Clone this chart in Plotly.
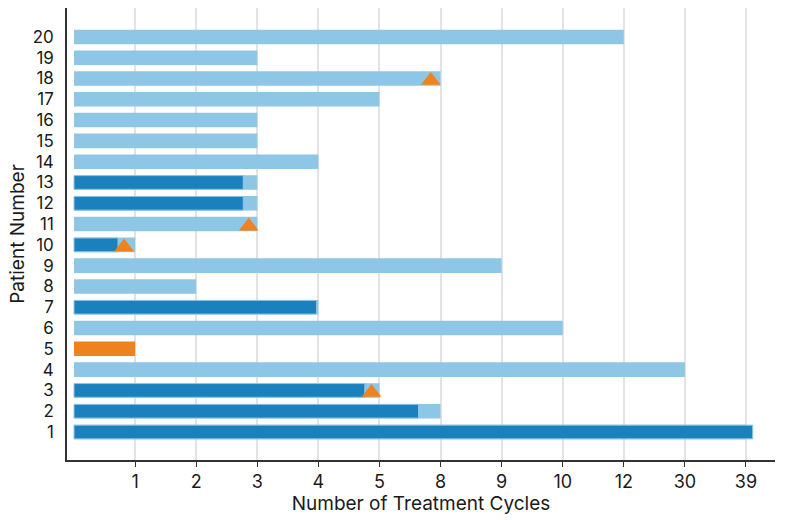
import plotly.graph_objects as go

# Ordinal x scale: tick labels in order (position 1..11)
cycle_ticks = [1, 2, 3, 4, 5, 8, 9, 10, 12, 30, 39]

patients = list(range(1, 21))
# total number of treatment cycles per patient
total_cycles = [39, 8, 5, 30, 1, 10, 4, 2, 9, 1, 3, 3, 3, 4, 3, 3, 5, 8, 3, 12]

# dark bars (ordinal-scale position)
dark_patients = [1, 2, 3, 7, 10, 12, 13]
dark_pos = [11.11, 5.64, 4.76, 3.97, 0.72, 2.77, 2.77]

# orange bar patient
orange_patients = [5]
orange_cycles = [1]

# triangle events (ordinal-scale position)
tri_patients = [3, 10, 11, 18]
tri_pos = [4.87, 0.82, 2.86, 5.84]

LIGHT = "#8EC6E5"
DARK = "#1B80BE"
ORANGE = "#EE821E"

def to_pos(c):
    return cycle_ticks.index(c) + 1

light_patients = [p for p in patients if p not in orange_patients]
light_pos = [to_pos(total_cycles[p - 1]) for p in light_patients]

fig = go.Figure()
fig.add_trace(go.Bar(
    y=light_patients, x=light_pos, orientation="h", width=0.7,
    marker=dict(color=LIGHT, line=dict(width=0)), showlegend=False, hoverinfo="skip"))
fig.add_trace(go.Bar(
    y=orange_patients, x=[to_pos(c) for c in orange_cycles], orientation="h", width=0.7,
    marker=dict(color=ORANGE, line=dict(width=0)), showlegend=False, hoverinfo="skip"))
fig.add_trace(go.Bar(
    y=dark_patients, x=dark_pos, orientation="h", width=0.66,
    marker=dict(color=DARK, line=dict(color=LIGHT, width=1)), showlegend=False, hoverinfo="skip"))
fig.add_trace(go.Scatter(
    y=[p - 0.1 for p in tri_patients], x=tri_pos, mode="markers",
    marker=dict(symbol="triangle-up", size=17, color=ORANGE, line=dict(width=0)),
    showlegend=False, hoverinfo="skip"))

fig.update_layout(
    barmode="overlay",
    width=785, height=520,
    margin=dict(l=67, r=10, t=8, b=60),
    paper_bgcolor="white", plot_bgcolor="white",
    font=dict(family="Inter, Roboto, sans-serif", size=18, color="#1a1a1a"),
    xaxis=dict(
        range=[-0.115, 11.475],
        tickmode="array",
        tickvals=list(range(1, len(cycle_ticks) + 1)),
        ticktext=[str(c) for c in cycle_ticks],
        tickfont=dict(size=18),
        showgrid=True, gridcolor="#E3E3E3", gridwidth=2,
        showline=True, linecolor="#333333", linewidth=1.5,
        ticks="outside", ticklen=5, tickcolor="#333333",
        zeroline=False,
        title=dict(text="Number of Treatment Cycles", font=dict(size=19), standoff=4),
    ),
    yaxis=dict(
        range=[-0.346, 21.39],
        tickmode="array",
        tickvals=patients,
        ticktext=[str(p) for p in patients],
        tickfont=dict(size=17),
        showgrid=False,
        showline=True, linecolor="#333333", linewidth=1.5,
        ticks="", ticklabelstandoff=8,
        zeroline=False,
        title=dict(text="Patient Number", font=dict(size=19), standoff=3),
    ),
)

fig.write_html("out.html")
